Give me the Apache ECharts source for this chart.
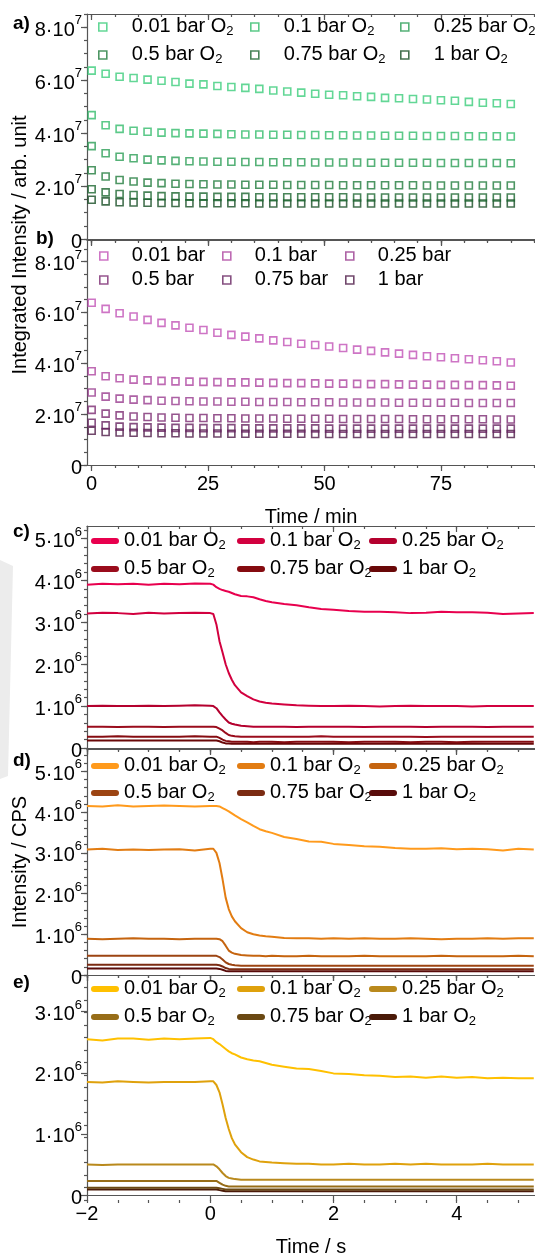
<!DOCTYPE html>
<html>
<head>
<meta charset="utf-8">
<script src="https://cdn.jsdelivr.net/npm/echarts@6/dist/echarts.min.js"></script>
<style>
  html, body { margin: 0; padding: 0; background: #fff; }
  #chart { width: 535px; height: 1258px; }
</style>
</head>
<body>
<div id="chart"></div>
<script>
// ---------- data ----------
// Panels a, b: integrated intensity (units of 1e7) vs. time in minutes
const timeMin = [0,3,6,9,12,15,18,21,24,27,30,33,36,39,42,45,48,51,54,57,60,63,66,69,72,75,78,81,84,87,90];

const a001 = [6.36,6.24,6.13,6.08,6.02,5.98,5.93,5.87,5.84,5.78,5.74,5.71,5.67,5.61,5.57,5.53,5.49,5.45,5.43,5.39,5.37,5.33,5.32,5.29,5.27,5.24,5.22,5.18,5.15,5.13,5.10];
const a01  = [4.68,4.30,4.16,4.09,4.05,4.02,4.00,3.99,3.98,3.97,3.96,3.95,3.95,3.94,3.94,3.93,3.93,3.92,3.92,3.91,3.91,3.90,3.90,3.90,3.89,3.89,3.89,3.88,3.88,3.88,3.87];
const a025 = [3.51,3.24,3.11,3.05,3.00,2.97,2.95,2.94,2.93,2.92,2.92,2.91,2.91,2.90,2.90,2.90,2.89,2.89,2.89,2.89,2.88,2.88,2.88,2.88,2.88,2.87,2.87,2.87,2.87,2.87,2.86];
const a05  = [2.60,2.36,2.23,2.17,2.13,2.11,2.09,2.08,2.07,2.06,2.06,2.05,2.05,2.05,2.04,2.04,2.04,2.04,2.03,2.03,2.03,2.03,2.03,2.03,2.02,2.02,2.02,2.02,2.02,2.02,2.02];
const a075 = [1.88,1.76,1.70,1.66,1.64,1.62,1.61,1.60,1.60,1.59,1.59,1.59,1.58,1.58,1.58,1.58,1.58,1.58,1.58,1.57,1.57,1.57,1.57,1.57,1.57,1.57,1.57,1.57,1.57,1.57,1.57];
const a1   = [1.48,1.42,1.39,1.38,1.37,1.36,1.36,1.35,1.35,1.35,1.35,1.35,1.34,1.34,1.34,1.34,1.34,1.34,1.34,1.34,1.34,1.34,1.34,1.34,1.34,1.34,1.34,1.34,1.34,1.34,1.34];

const b001 = [6.38,6.14,5.97,5.84,5.71,5.59,5.49,5.40,5.31,5.20,5.12,5.05,4.98,4.90,4.84,4.77,4.72,4.66,4.60,4.54,4.49,4.43,4.38,4.33,4.28,4.24,4.20,4.16,4.12,4.08,4.03];
const b01  = [3.69,3.49,3.41,3.36,3.33,3.31,3.29,3.28,3.27,3.26,3.25,3.25,3.24,3.23,3.22,3.22,3.21,3.20,3.20,3.19,3.18,3.18,3.17,3.16,3.16,3.15,3.15,3.14,3.14,3.13,3.12];
const b025 = [2.85,2.69,2.61,2.57,2.55,2.53,2.52,2.51,2.50,2.50,2.49,2.49,2.48,2.48,2.48,2.47,2.47,2.47,2.46,2.46,2.46,2.46,2.45,2.45,2.45,2.45,2.45,2.44,2.44,2.44,2.44];
const b05  = [2.17,2.02,1.95,1.91,1.89,1.87,1.86,1.85,1.85,1.84,1.84,1.83,1.83,1.83,1.82,1.82,1.82,1.82,1.81,1.81,1.81,1.81,1.81,1.80,1.80,1.80,1.80,1.80,1.80,1.79,1.79];
const b075 = [1.66,1.56,1.51,1.49,1.48,1.47,1.46,1.46,1.45,1.45,1.45,1.44,1.44,1.44,1.44,1.44,1.44,1.43,1.43,1.43,1.43,1.43,1.43,1.43,1.43,1.43,1.43,1.43,1.43,1.43,1.43];
const b1   = [1.35,1.30,1.28,1.27,1.26,1.25,1.25,1.24,1.24,1.24,1.23,1.23,1.23,1.23,1.23,1.23,1.22,1.22,1.22,1.22,1.22,1.22,1.22,1.22,1.22,1.22,1.22,1.22,1.22,1.22,1.22];

// Panels c, d, e: intensity (units of 1e6 CPS) vs. time in seconds around the gas switch
const timeSec = [-2,-1.75,-1.5,-1.25,-1,-0.75,-0.5,-0.25,0,0.05,0.1,0.15,0.2,0.25,0.3,0.35,0.4,0.5,0.6,0.7,0.8,0.9,1,1.2,1.4,1.6,1.8,2,2.25,2.5,2.75,3,3.25,3.5,3.75,4,4.25,4.5,4.75,5,5.25];

const c001 = [3.90,3.92,3.91,3.92,3.90,3.92,3.91,3.93,3.92,3.90,3.84,3.80,3.77,3.75,3.73,3.70,3.67,3.63,3.62,3.60,3.55,3.51,3.48,3.44,3.41,3.36,3.32,3.30,3.27,3.25,3.25,3.24,3.22,3.23,3.25,3.24,3.24,3.23,3.20,3.21,3.22];
const c01  = [3.21,3.23,3.22,3.20,3.23,3.21,3.22,3.23,3.22,3.20,2.95,2.55,2.28,2.00,1.79,1.63,1.50,1.33,1.24,1.16,1.11,1.08,1.06,1.04,1.02,1.01,1.00,1.00,1.01,1.00,0.99,1.00,1.01,1.00,1.00,1.00,0.99,1.00,1.00,1.00,1.00];
const c025 = [1.00,1.01,1.00,1.00,1.01,1.00,1.01,1.02,1.01,1.00,0.95,0.85,0.76,0.68,0.61,0.58,0.56,0.53,0.52,0.51,0.51,0.51,0.51,0.51,0.50,0.51,0.51,0.51,0.51,0.50,0.51,0.51,0.51,0.50,0.51,0.51,0.51,0.50,0.51,0.51,0.51];
const c05  = [0.51,0.51,0.50,0.51,0.51,0.50,0.51,0.51,0.51,0.51,0.50,0.46,0.42,0.36,0.31,0.29,0.28,0.27,0.27,0.27,0.27,0.27,0.27,0.27,0.27,0.27,0.28,0.27,0.27,0.27,0.27,0.27,0.27,0.26,0.27,0.27,0.27,0.27,0.27,0.27,0.27];
const c075 = [0.27,0.27,0.28,0.27,0.27,0.27,0.27,0.28,0.27,0.27,0.27,0.24,0.20,0.17,0.16,0.15,0.15,0.15,0.15,0.14,0.15,0.15,0.15,0.14,0.15,0.15,0.15,0.15,0.14,0.15,0.15,0.15,0.14,0.15,0.15,0.14,0.15,0.15,0.15,0.15,0.15];
const c1   = [0.18,0.18,0.18,0.18,0.18,0.18,0.18,0.18,0.18,0.18,0.18,0.16,0.13,0.11,0.11,0.10,0.10,0.10,0.11,0.10,0.10,0.10,0.11,0.10,0.10,0.10,0.10,0.11,0.10,0.10,0.10,0.11,0.10,0.10,0.10,0.10,0.11,0.10,0.10,0.10,0.10];

const d001 = [4.15,4.14,4.17,4.14,4.15,4.16,4.15,4.14,4.15,4.15,4.15,4.14,4.10,4.06,4.02,3.97,3.92,3.83,3.75,3.66,3.58,3.53,3.49,3.39,3.34,3.28,3.27,3.22,3.19,3.16,3.15,3.12,3.10,3.10,3.11,3.09,3.10,3.09,3.06,3.10,3.08];
const d01  = [3.08,3.10,3.07,3.08,3.07,3.08,3.09,3.06,3.10,3.10,3.00,2.75,2.35,1.90,1.62,1.44,1.32,1.15,1.05,1.00,0.97,0.95,0.94,0.91,0.90,0.90,0.89,0.90,0.89,0.90,0.89,0.89,0.90,0.89,0.88,0.89,0.89,0.90,0.89,0.90,0.90];
const d025 = [0.89,0.88,0.89,0.90,0.89,0.89,0.88,0.89,0.89,0.89,0.89,0.88,0.83,0.72,0.60,0.55,0.52,0.49,0.48,0.47,0.47,0.46,0.47,0.46,0.46,0.47,0.46,0.46,0.46,0.47,0.46,0.46,0.46,0.46,0.47,0.46,0.46,0.46,0.46,0.47,0.46];
const d05  = [0.47,0.47,0.47,0.47,0.47,0.47,0.47,0.47,0.47,0.47,0.47,0.44,0.38,0.31,0.27,0.25,0.24,0.23,0.23,0.23,0.23,0.23,0.23,0.23,0.23,0.23,0.23,0.23,0.23,0.23,0.23,0.23,0.23,0.23,0.23,0.23,0.23,0.23,0.23,0.23,0.23];
const d075 = [0.25,0.25,0.25,0.25,0.25,0.25,0.25,0.25,0.25,0.25,0.25,0.24,0.21,0.17,0.15,0.14,0.14,0.14,0.14,0.14,0.14,0.14,0.14,0.14,0.14,0.14,0.14,0.14,0.14,0.14,0.14,0.14,0.14,0.14,0.14,0.14,0.14,0.14,0.14,0.14,0.14];
const d1   = [0.16,0.16,0.16,0.16,0.16,0.16,0.16,0.16,0.16,0.16,0.16,0.15,0.13,0.10,0.09,0.09,0.09,0.09,0.09,0.09,0.09,0.09,0.09,0.09,0.09,0.09,0.09,0.09,0.09,0.09,0.09,0.09,0.09,0.09,0.09,0.09,0.09,0.09,0.09,0.09,0.09];

const e001 = [2.55,2.53,2.56,2.56,2.54,2.56,2.55,2.56,2.57,2.55,2.50,2.47,2.43,2.39,2.35,2.32,2.30,2.25,2.22,2.20,2.19,2.16,2.13,2.10,2.07,2.06,2.03,1.99,1.98,1.96,1.95,1.93,1.94,1.92,1.94,1.92,1.93,1.91,1.92,1.91,1.91];
const e01  = [1.85,1.84,1.86,1.85,1.84,1.85,1.85,1.85,1.86,1.86,1.80,1.68,1.48,1.26,1.08,0.93,0.83,0.70,0.62,0.58,0.55,0.54,0.53,0.52,0.51,0.51,0.50,0.50,0.51,0.50,0.50,0.51,0.50,0.51,0.50,0.50,0.50,0.51,0.50,0.50,0.50];
const e025 = [0.50,0.49,0.50,0.50,0.50,0.50,0.50,0.50,0.50,0.50,0.47,0.42,0.36,0.31,0.28,0.27,0.26,0.25,0.25,0.25,0.25,0.25,0.25,0.25,0.25,0.25,0.25,0.25,0.25,0.25,0.25,0.25,0.25,0.25,0.25,0.25,0.25,0.25,0.25,0.25,0.25];
const e05  = [0.23,0.23,0.23,0.23,0.23,0.23,0.23,0.23,0.23,0.23,0.23,0.20,0.17,0.15,0.14,0.14,0.14,0.14,0.14,0.14,0.14,0.14,0.14,0.14,0.14,0.14,0.14,0.14,0.14,0.14,0.14,0.14,0.14,0.14,0.14,0.14,0.14,0.14,0.14,0.14,0.14];
const e075 = [0.12,0.12,0.12,0.12,0.12,0.12,0.12,0.12,0.12,0.12,0.12,0.11,0.10,0.09,0.09,0.09,0.09,0.09,0.09,0.09,0.09,0.09,0.09,0.09,0.09,0.09,0.09,0.09,0.09,0.09,0.09,0.09,0.09,0.09,0.09,0.09,0.09,0.09,0.09,0.09,0.09];
const e1   = [0.09,0.09,0.09,0.09,0.09,0.09,0.09,0.09,0.09,0.09,0.09,0.08,0.07,0.06,0.06,0.06,0.06,0.06,0.06,0.06,0.06,0.06,0.06,0.06,0.06,0.06,0.06,0.06,0.06,0.06,0.06,0.06,0.06,0.06,0.06,0.06,0.06,0.06,0.06,0.06,0.06];

// Legend labels and tick labels
const labelsO2  = ['0.01 bar O', '0.1 bar O', '0.25 bar O', '0.5 bar O', '0.75 bar O', '1 bar O'];
const labelsBar = ['0.01 bar', '0.1 bar', '0.25 bar', '0.5 bar', '0.75 bar', '1 bar'];
const xTicksMin = [0, 25, 50, 75];
const xTicksSec = [-2, 0, 2, 4];
const yTicks7   = [0, 2, 4, 6, 8];
const yTicks6   = [0, 1, 2, 3, 4, 5];
const yTicks6e  = [0, 1, 2, 3];

// ---------- styling / layout ----------
const FONT = '"Liberation Sans", Arial, sans-serif';
const AXIS = '#555555';

const colorsA = ['#3ccd7c', '#33bb6b', '#2a9e55', '#217c3c', '#1b6630', '#174d24'];
const colorsB = ['#c252b6', '#ae45a0', '#993b8e', '#7c2b72', '#682461', '#4e1a47'];
const colorsC = ['#e8004e', '#d2003f', '#b4002e', '#9a0c1c', '#850b10', '#690808'];
const colorsD = ['#ff9a1c', '#e27c12', '#c5640f', '#9c4412', '#7b2b12', '#580b0a'];
const colorsE = ['#ffc000', '#dfa10c', '#b9891c', '#976d18', '#6a4813', '#4a1a08'];

const panels = [
  { id: 'a', kind: 'scatter', x: timeMin, ys: [a001, a01, a025, a05, a075, a1], colors: colorsA, labels: labelsO2, sub: true },
  { id: 'b', kind: 'scatter', x: timeMin, ys: [b001, b01, b025, b05, b075, b1], colors: colorsB, labels: labelsBar, sub: false },
  { id: 'c', kind: 'line', x: timeSec, ys: [c001, c01, c025, c05, c075, c1], colors: colorsC, labels: labelsO2, sub: true },
  { id: 'd', kind: 'line', x: timeSec, ys: [d001, d01, d025, d05, d075, d1], colors: colorsD, labels: labelsO2, sub: true },
  { id: 'e', kind: 'line', x: timeSec, ys: [e001, e01, e025, e05, e075, e1], colors: colorsE, labels: labelsO2, sub: true }
];

const boxes = [
  { top: 14,  height: 225 },
  { top: 240, height: 225 },
  { top: 526, height: 222 },
  { top: 749, height: 226 },
  { top: 975, height: 225 }
];
const GRID_LEFT = 87, GRID_WIDTH = 458;
const xRanges = [[-1, 95.2], [-1, 95.2], [-2, 5.27], [-2, 5.27], [-2, 5.27]];
const yRanges = [[0, 8.5], [0, 8.85], [0, 5.3], [0, 5.55], [0, 3.6]];
const xMajor = [xTicksMin, xTicksMin, xTicksSec, xTicksSec, xTicksSec];
const yMajor = [yTicks7, yTicks7, yTicks6, yTicks6, yTicks6e];
const yExp = [7, 7, 6, 6, 6];

function steps(from, to, step) {
  const out = [];
  for (let k = 0; from + k * step <= to + 1e-9; k++) out.push(+(from + k * step).toFixed(4));
  return out;
}
const xMinor = [steps(0, 95, 5), steps(0, 95, 5), steps(-2, 5, 0.5), steps(-2, 5, 0.5), steps(-2, 5, 0.5)];
const yMinor = [steps(0, 8.5, 0.5), steps(0, 8.5, 0.5), steps(0, 5.2, 0.2), steps(0, 5.4, 0.2), steps(0, 3.6, 0.2)];

const lineStyleAxis = { color: AXIS, width: 1.2 };

// grids: 0-4 hold the data and major ticks, 5-9 overlay the same boxes for minor ticks
const grids = [];
for (let pass = 0; pass < 2; pass++) {
  boxes.forEach(b => grids.push({ left: GRID_LEFT, width: GRID_WIDTH, top: b.top, height: b.height, show: false }));
}

const xAxes = [];
const yAxes = [];
panels.forEach((p, i) => {
  const showLabels = (i === 1 || i === 4);
  xAxes.push({
    gridIndex: i, type: 'value', position: 'bottom',
    min: xRanges[i][0], max: xRanges[i][1],
    name: i === 1 ? 'Time / min' : (i === 4 ? 'Time / s' : ''),
    nameLocation: 'middle', nameGap: i === 1 ? 42 : 42,
    nameTextStyle: { fontFamily: FONT, fontSize: 20, color: '#000' },
    axisLine: { show: true, onZero: false, lineStyle: lineStyleAxis },
    axisTick: { show: true, inside: false, length: 6, customValues: xMajor[i], lineStyle: lineStyleAxis },
    axisLabel: {
      show: showLabels, customValues: xMajor[i], margin: 9,
      fontFamily: FONT, fontSize: 20, color: '#000',
      formatter: v => (v < 0 ? '\u2212' + Math.abs(v) : String(v))
    },
    splitLine: { show: false }
  });
  xAxes.push({
    gridIndex: i, type: 'value', position: 'top',
    min: xRanges[i][0], max: xRanges[i][1],
    axisLine: { show: true, onZero: false, lineStyle: lineStyleAxis },
    axisTick: { show: true, inside: true, length: 6, customValues: xMajor[i], lineStyle: lineStyleAxis },
    axisLabel: { show: false },
    splitLine: { show: false }
  });
  yAxes.push({
    gridIndex: i, type: 'value', position: 'left',
    min: yRanges[i][0], max: yRanges[i][1],
    axisLine: { show: true, onZero: false, lineStyle: lineStyleAxis },
    axisTick: { show: true, inside: false, length: 6, customValues: yMajor[i], lineStyle: lineStyleAxis },
    axisLabel: {
      show: true, customValues: yMajor[i], margin: 5,
      formatter: v => (v === 0 ? '{n|0}' : '{n|' + v + '\u00b710}{s|' + yExp[i] + '}'),
      rich: {
        n: { fontFamily: FONT, fontSize: 20, color: '#000', lineHeight: 26, verticalAlign: 'bottom' },
        s: { fontFamily: FONT, fontSize: 13, color: '#000', lineHeight: 14, verticalAlign: 'top' }
      }
    },
    splitLine: { show: false }
  });
});
panels.forEach((p, i) => {
  const g = 5 + i;
  xAxes.push({
    gridIndex: g, type: 'value', position: 'bottom',
    min: xRanges[i][0], max: xRanges[i][1],
    axisLine: { show: false, onZero: false },
    axisTick: { show: true, inside: false, length: 3, customValues: xMinor[i], lineStyle: lineStyleAxis },
    axisLabel: { show: false }, splitLine: { show: false }
  });
  xAxes.push({
    gridIndex: g, type: 'value', position: 'top',
    min: xRanges[i][0], max: xRanges[i][1],
    axisLine: { show: false, onZero: false },
    axisTick: { show: true, inside: true, length: 3, customValues: xMinor[i], lineStyle: lineStyleAxis },
    axisLabel: { show: false }, splitLine: { show: false }
  });
  yAxes.push({
    gridIndex: g, type: 'value', position: 'left',
    min: yRanges[i][0], max: yRanges[i][1],
    axisLine: { show: false, onZero: false },
    axisTick: { show: true, inside: false, length: 3, customValues: yMinor[i], lineStyle: lineStyleAxis },
    axisLabel: { show: false }, splitLine: { show: false }
  });
});

// series
const series = [];
panels.forEach((p, i) => {
  p.ys.forEach((ys, k) => {
    const data = p.x.map((t, j) => [t, ys[j]]);
    const name = p.id + ':' + p.labels[k];
    if (p.kind === 'scatter') {
      series.push({
        name, type: 'scatter', xAxisIndex: 2 * i, yAxisIndex: i, data,
        symbol: 'rect', symbolSize: 7,
        itemStyle: { color: 'rgba(255,255,255,0)', borderColor: p.colors[k], borderWidth: 1.6 },
        emphasis: { disabled: true }, z: 10 - k
      });
    } else {
      series.push({
        name, type: 'line', xAxisIndex: 2 * i, yAxisIndex: i, data,
        showSymbol: false, symbol: 'none',
        lineStyle: { color: p.colors[k], width: 2 },
        itemStyle: { color: p.colors[k] },
        emphasis: { disabled: true }, z: 10 - k
      });
    }
  });
});

// legends: one component per entry, three columns by two rows per panel
const legendRows = { a: [27, 55], b: [256, 280], c: [541, 569], d: [766, 793], e: [989, 1017] };
const legendCols = {
  a: [98, 250, 400], b: [99, 222, 345],
  c: [91, 237, 369], d: [91, 237, 369], e: [91, 237, 369]
};
const legendTextGap = { a: 20, b: 19, c: 0, d: 0, e: 0 };
const SQUARE = 'path://M0,0H10V10H0Z';
const CAPSULE = 'path://M3,0H25A3,3,0,0,1,25,6H3A3,3,0,0,1,3,0Z';
const legends = [];
panels.forEach(p => {
  p.labels.forEach((lab, k) => {
    const row = Math.floor(k / 3), col = k % 3;
    const name = p.id + ':' + lab;
    const text = p.sub ? '{t|' + lab + '}{u|2}' : '{t|' + lab + '}';
    const isScatter = p.kind === 'scatter';
    legends.push({
      left: legendCols[p.id][col], top: legendRows[p.id][row] - 11,
      padding: 0, selectedMode: false, orient: 'horizontal',
      itemWidth: isScatter ? 8 : 28, itemHeight: isScatter ? 8 : 6,
      data: [isScatter
        ? { name, icon: SQUARE, itemStyle: { color: 'rgba(255,255,255,0)', borderColor: p.colors[k], borderWidth: 1.6 } }
        : { name, icon: CAPSULE, itemStyle: { color: p.colors[k], borderWidth: 0 } }],
      formatter: () => text,
      textStyle: {
        fontFamily: FONT, fontSize: 20, color: '#000',
        rich: {
          t: { fontFamily: FONT, fontSize: 20, color: '#000', lineHeight: 22, verticalAlign: 'top',
               padding: [0, 0, 0, legendTextGap[p.id]] },
          u: { fontFamily: FONT, fontSize: 13, color: '#000', lineHeight: 10, verticalAlign: 'bottom' }
        }
      }
    });
  });
});

// panel letters, shared axis titles and the faint mark at the left margin
const graphics = [
  { type: 'polygon', z: 0, shape: { points: [[0, 560], [13, 566], [8, 776], [0, 779]] }, style: { fill: '#ececec' } },
  { type: 'text', x: 13, y: 24,  style: { text: 'a)', font: 'bold 19px ' + FONT, fill: '#000', verticalAlign: 'middle' } },
  { type: 'text', x: 36, y: 239, style: { text: 'b)', font: 'bold 19px ' + FONT, fill: '#000', verticalAlign: 'middle' } },
  { type: 'text', x: 13, y: 532, style: { text: 'c)', font: 'bold 19px ' + FONT, fill: '#000', verticalAlign: 'middle' } },
  { type: 'text', x: 13, y: 761, style: { text: 'd)', font: 'bold 19px ' + FONT, fill: '#000', verticalAlign: 'middle' } },
  { type: 'text', x: 13, y: 983, style: { text: 'e)', font: 'bold 19px ' + FONT, fill: '#000', verticalAlign: 'middle' } },
  { type: 'text', x: 20, y: 245, rotation: Math.PI / 2,
    style: { text: 'Integrated Intensity / arb. unit', font: '20px ' + FONT, fill: '#000', align: 'center', verticalAlign: 'middle' } },
  { type: 'text', x: 20, y: 862, rotation: Math.PI / 2,
    style: { text: 'Intensity / CPS', font: '20px ' + FONT, fill: '#000', align: 'center', verticalAlign: 'middle' } }
];

const chart = echarts.init(document.getElementById('chart'), null, { renderer: 'canvas', width: 535, height: 1258 });
chart.setOption({
  backgroundColor: '#ffffff',
  animation: false,
  grid: grids,
  xAxis: xAxes,
  yAxis: yAxes,
  legend: legends,
  series,
  graphic: { elements: graphics }
});
</script>
</body>
</html>
